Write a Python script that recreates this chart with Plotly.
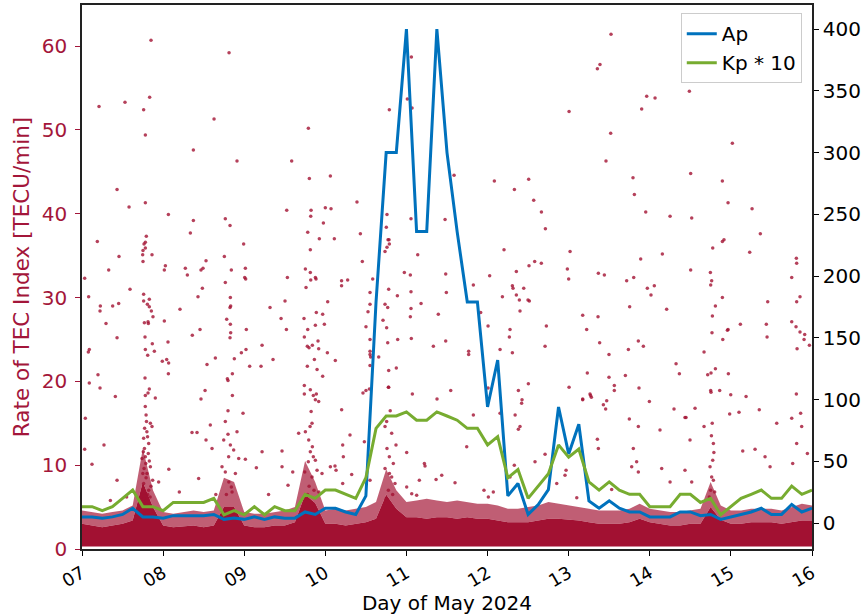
import numpy as np
import plotly.graph_objects as go

# ---------------- data ----------------
# 3-hourly geomagnetic indices, 2024-05-07 00:00 .. 2024-05-16 00:00
ap_values = [5, 5, 4, 5, 7, 12, 5, 5,
             4, 6, 6, 6, 6, 7, 3, 4,
             3, 5, 3, 5, 4, 4, 9, 7,
             12, 12, 9, 7, 22, 179, 300, 300,
             400, 236, 236, 400, 300, 236, 179, 179,
             94, 132, 22, 32, 7, 15, 27, 94,
             56, 80, 18, 12, 18, 12, 9, 9,
             5, 5, 5, 9, 9, 6, 7, 3,
             5, 7, 9, 12, 7, 7, 15, 9, 12]
kp10_values = [13.3, 13.3, 10, 13.3, 20, 26.7, 13.3, 13.3,
               10, 16.7, 16.7, 16.7, 16.7, 20, 6.7, 10,
               6.7, 13.3, 6.7, 13.3, 10, 10, 23.3, 20,
               26.7, 26.7, 23.3, 20, 36.7, 76.7, 86.7, 86.7,
               90, 83.3, 83.3, 90, 86.7, 83.3, 76.7, 76.7,
               63.3, 70, 36.7, 43.3, 20, 30, 40, 63.3,
               53.3, 60, 33.3, 26.7, 33.3, 26.7, 23.3, 23.3,
               13.3, 13.3, 13.3, 23.3, 23.3, 16.7, 20, 6.7,
               13.3, 20, 23.3, 26.7, 20, 20, 30, 23.3, 26.7]
index_day = list(7 + 0.125 * np.arange(len(ap_values)))  # day of May

# dense bulk of the ROTI points (read as envelopes, 3-hourly)
band_floor = [0.3] * 73
band_core = [3.0, 2.8, 2.6, 2.8, 3.0, 3.4, 8.0, 5.0,
             2.8, 2.6, 2.7, 2.8, 2.6, 2.8, 5.0, 5.0,
             2.8, 2.6, 2.6, 2.8, 2.8, 3.2, 6.5, 5.5,
             3.0, 3.0, 2.8, 3.0, 3.2, 3.6, 6.5, 4.8,
             3.8, 3.8, 3.6, 3.8, 3.8, 3.6, 3.8, 3.6,
             3.6, 3.4, 3.2, 3.2, 3.2, 3.4, 3.6, 3.6,
             3.5, 3.4, 3.2, 3.0, 3.0, 3.0, 3.2, 3.6,
             3.2, 3.0, 2.8, 2.8, 3.0, 3.0, 5.0, 3.5,
             3.0, 3.0, 3.2, 3.2, 3.2, 3.0, 3.2, 3.4, 3.4]
band_halo = [4.6, 4.4, 4.2, 4.4, 4.6, 5.2, 12.0, 7.0,
             4.4, 4.2, 4.4, 4.6, 4.4, 4.6, 8.5, 8.0,
             4.4, 4.2, 4.2, 4.4, 4.6, 5.0, 10.5, 8.0,
             4.6, 4.8, 4.6, 4.8, 5.0, 5.6, 9.5, 7.0,
             5.6, 5.8, 6.0, 5.8, 5.6, 5.8, 5.6, 5.4,
             5.4, 5.2, 4.8, 4.8, 5.0, 5.2, 5.6, 5.4,
             5.2, 5.0, 4.8, 4.6, 4.6, 4.6, 4.8, 5.4,
             4.8, 4.6, 4.4, 4.4, 4.6, 4.8, 8.0, 5.2,
             4.6, 4.6, 4.8, 4.8, 4.8, 4.6, 5.0, 5.4, 5.2]

# individual scattered ROTI points (day of May, TECU/min)
tec_points = [
    (7.851, 60.7), (8.813, 59.2), (7.210, 52.8), (7.530, 53.3), (7.834, 53.9), (7.760, 52.4),
    (7.781, 49.4), (8.628, 51.3), (8.373, 47.6), (8.911, 46.3), (9.585, 46.3), (9.791, 50.2),
    (9.803, 44.2), (10.062, 44.5), (7.432, 42.9), (7.580, 40.8), (7.781, 41.3), (8.065, 39.9),
    (8.373, 39.2), (8.336, 37.7), (8.767, 39.4), (8.825, 38.6), (8.993, 36.4), (9.524, 40.4),
    (9.824, 40.4), (9.820, 39.7), (10.000, 40.7), (10.070, 40.6), (9.976, 38.9), (9.783, 37.8),
    (9.926, 37.0), (9.815, 35.7), (7.189, 36.7), (7.456, 34.9), (7.793, 37.3), (7.781, 36.6),
    (7.765, 36.4), (7.781, 35.9), (7.752, 35.6), (7.748, 35.1), (7.863, 35.1), (7.752, 34.3),
    (8.028, 33.8), (8.015, 33.3), (8.529, 34.4), (8.492, 33.5), (8.467, 33.3), (8.274, 33.5),
    (8.299, 32.7), (8.755, 34.9), (8.841, 33.3), (9.014, 33.5), (9.006, 32.4), (9.018, 32.2),
    (9.754, 33.4), (9.815, 33.0), (9.820, 32.1), (9.877, 32.4), (9.885, 32.2), (9.762, 31.2),
    (9.532, 32.4), (7.329, 33.3), (7.033, 32.3), (7.592, 31.0), (7.082, 30.1), (8.484, 31.1),
    (8.430, 30.1), (8.767, 31.8), (7.226, 29.0), (7.222, 28.4), (7.378, 29.0), (7.452, 29.3),
    (7.296, 26.9), (7.760, 30.4), (7.760, 29.6), (7.830, 29.8), (7.806, 29.2), (7.830, 28.9),
    (7.855, 28.4), (7.875, 27.7), (7.769, 27.0), (7.814, 27.1), (7.818, 26.9), (8.015, 27.2),
    (8.208, 28.6), (8.829, 30.0), (8.833, 29.0), (8.825, 28.8), (8.784, 27.4), (8.829, 26.8),
    (8.833, 25.8), (8.825, 25.2), (9.026, 26.2), (9.318, 28.8), (9.503, 29.6), (9.454, 27.5),
    (9.520, 26.2), (9.737, 27.5), (9.783, 26.2), (9.877, 26.7), (9.889, 28.2), (9.967, 28.0),
    (9.988, 26.8), (10.029, 29.5), (7.432, 25.2), (7.078, 23.5), (7.090, 23.8), (7.777, 25.3),
    (7.781, 23.8), (7.867, 24.5), (7.810, 23.1), (7.892, 23.6), (8.060, 24.7), (8.360, 25.5),
    (8.455, 26.2), (7.990, 22.4), (8.044, 22.6), (8.068, 22.2), (8.065, 20.9), (8.541, 22.0),
    (8.644, 22.8), (8.878, 22.7), (8.965, 23.4), (9.022, 23.8), (9.220, 24.3), (9.355, 22.6),
    (9.067, 21.8), (9.207, 21.8), (9.741, 25.3), (9.778, 24.2), (9.799, 24.0), (9.840, 24.3),
    (9.910, 24.8), (9.918, 23.9), (10.025, 23.4), (9.865, 22.6), (9.778, 21.8), (9.898, 21.4),
    (9.967, 20.6), (7.197, 20.8), (7.090, 19.8), (7.222, 19.2), (7.411, 18.2), (7.777, 20.4),
    (7.830, 19.1), (7.814, 18.6), (7.781, 18.3), (7.904, 18.0), (8.792, 20.3), (8.800, 20.1),
    (8.854, 20.9), (8.854, 18.3), (8.517, 18.9), (8.467, 17.9), (9.741, 19.5), (9.815, 19.0),
    (9.889, 18.5), (9.852, 18.3), (9.741, 18.5),
    (11.061, 58.7), (11.011, 53.7), (11.069, 52.6), (10.789, 52.4), (11.587, 44.6), (10.390, 41.4),
    (12.084, 43.9), (12.507, 44.1), (12.331, 42.9), (12.569, 41.6), (12.664, 40.2), (12.713, 38.2),
    (13.005, 52.2), (10.111, 37.0), (10.432, 37.6), (10.760, 39.9), (10.752, 38.4), (10.773, 36.9),
    (10.785, 36.9), (10.789, 36.4), (10.760, 36.0), (10.736, 35.5), (11.056, 39.4), (11.476, 39.3),
    (11.139, 35.1), (10.456, 34.3), (10.200, 32.0), (10.200, 31.4), (10.275, 32.1), (10.584, 32.2),
    (10.974, 33.0), (11.048, 32.7), (11.484, 32.8), (12.203, 35.7), (12.026, 32.6), (11.825, 31.5),
    (12.355, 33.1), (12.511, 33.8), (12.581, 34.3), (12.663, 34.1), (12.984, 33.4), (13.000, 32.2),
    (13.017, 35.5), (12.306, 31.4), (12.314, 31.1), (12.446, 31.1), (12.355, 30.3), (12.392, 29.7),
    (12.515, 29.6), (12.499, 29.7), (12.183, 30.1), (12.400, 28.4), (10.551, 30.6), (10.551, 29.2),
    (10.526, 28.3), (10.736, 29.2), (10.769, 28.8), (10.781, 31.0), (10.888, 30.2), (11.056, 30.7),
    (11.056, 28.7), (11.048, 27.7), (11.180, 29.3), (11.393, 28.0), (11.492, 30.6), (11.915, 28.2),
    (10.501, 26.5), (10.551, 25.0), (10.711, 27.3), (10.756, 26.4), (10.769, 24.6), (10.892, 25.0),
    (11.060, 25.1), (11.332, 24.2), (11.484, 24.8), (12.006, 26.6), (12.277, 26.2), (12.269, 25.3),
    (12.306, 23.4), (12.154, 23.8), (12.725, 26.6), (12.709, 24.2), (11.767, 23.6), (11.767, 23.2),
    (10.123, 22.5), (10.551, 23.6), (10.551, 23.2), (10.559, 22.9), (10.551, 21.9), (10.658, 22.9),
    (10.781, 21.3), (10.875, 21.6), (10.781, 19.3), (10.464, 18.6), (10.501, 18.9), (10.543, 19.1),
    (11.073, 18.5), (11.377, 17.9), (11.546, 18.9), (12.006, 19.2), (12.380, 18.9), (12.503, 19.7),
    (13.005, 19.3),
    (13.522, 61.4), (13.354, 57.3), (13.386, 57.8), (13.962, 54.0), (14.065, 53.8), (13.900, 52.5),
    (14.488, 54.6), (13.518, 49.6), (15.018, 48.4), (13.460, 46.3), (13.793, 44.3), (13.810, 42.3),
    (14.504, 44.8), (14.895, 43.9), (14.965, 41.3), (15.261, 40.6), (13.950, 40.2), (14.250, 39.7),
    (14.517, 39.5), (15.363, 37.6), (14.776, 35.9), (14.895, 36.7), (14.915, 36.9), (15.232, 35.4),
    (13.888, 34.6), (14.155, 35.2), (13.366, 32.9), (13.440, 32.7), (13.715, 32.0), (13.802, 32.4),
    (13.970, 31.1), (14.056, 31.4), (14.015, 30.3), (13.752, 28.9), (14.208, 28.6), (14.504, 33.3),
    (14.747, 33.0), (14.763, 32.0), (14.751, 31.5), (14.809, 29.0), (14.772, 27.8), (14.895, 30.0),
    (14.767, 25.8), (14.900, 25.0), (14.965, 26.2), (14.957, 26.1), (15.117, 26.8), (15.437, 26.8),
    (15.446, 25.3), (15.454, 29.5), (15.750, 32.4), (15.807, 34.7), (15.811, 34.1), (15.852, 30.1),
    (15.811, 29.5), (15.750, 27.1), (15.803, 26.5), (15.852, 25.9), (15.910, 25.6), (15.902, 25.0),
    (15.816, 23.9), (15.968, 24.3), (13.173, 27.9), (13.362, 27.7), (13.222, 26.2), (13.382, 24.6),
    (13.497, 23.2), (13.736, 23.8), (13.859, 24.8), (13.921, 24.2), (14.324, 22.1), (14.365, 20.9),
    (14.669, 23.5), (14.714, 20.8), (14.755, 21.0), (14.809, 21.5), (14.969, 20.9), (13.230, 21.0),
    (13.497, 20.5), (13.699, 20.7), (13.563, 19.5), (13.563, 18.9), (13.867, 19.2), (13.263, 18.5),
    (13.280, 18.1), (13.173, 17.9), (14.751, 18.9), (14.755, 18.7), (14.862, 18.9), (14.998, 18.4),
    (15.187, 18.2), (15.807, 18.5),
    (7.041, 15.6), (7.033, 11.9), (7.123, 10.1), (7.271, 12.4), (7.432, 8.2),
    (7.760, 13.2), (7.781, 11.0), (7.765, 9.6), (7.843, 15.0), (7.863, 14.6), (7.822, 12.6),
    (7.740, 10.8), (7.801, 9.0), (7.843, 9.8), (7.871, 8.2), (7.760, 7.8), (7.822, 7.0),
    (7.790, 16.0), (7.800, 14.0), (7.770, 12.0), (7.830, 10.5), (7.750, 9.0), (7.790, 8.5),
    (7.850, 7.5), (7.810, 6.5), (7.760, 6.0), (7.840, 6.2), (7.780, 17.0),
    (7.795, 15.2), (7.808, 13.4), (7.772, 14.4), (7.817, 11.4), (7.786, 10.2), (7.756, 11.6),
    (8.070, 9.5), (7.945, 8.0), (8.356, 13.9), (8.418, 13.9), (8.582, 14.8), (8.529, 13.0),
    (8.603, 12.0), (8.438, 8.4),
    (8.767, 15.2), (8.800, 13.7), (8.747, 13.0), (8.911, 14.0), (8.829, 12.4), (8.870, 11.8),
    (8.808, 11.0), (8.726, 9.8), (8.767, 9.2), (8.891, 9.0), (8.932, 10.8), (9.014, 10.7),
    (8.841, 7.4), (8.810, 8.0), (8.780, 6.5), (8.850, 6.8), (8.800, 16.5), (8.985, 16.2),
    (9.220, 11.6), (9.150, 9.7), (9.466, 11.7), (9.466, 9.8), (9.598, 9.2), (9.540, 7.6),
    (9.671, 13.8), (9.754, 14.0), (9.836, 15.0), (9.877, 17.8), (9.918, 17.6), (9.795, 13.0),
    (9.815, 11.6), (9.877, 10.6), (9.898, 9.4), (9.836, 8.6), (9.746, 9.2), (9.959, 9.0),
    (10.062, 9.8), (9.800, 7.5), (9.860, 7.0), (9.780, 6.5), (9.920, 6.8), (9.840, 12.2),
    (9.812, 14.6), (9.790, 10.4), (9.852, 11.0), (9.825, 16.4),
    (8.200, 6.8), (8.650, 6.5), (7.550, 6.2), (9.300, 6.5), (7.350, 5.8),
    (10.777, 19.3), (10.201, 16.6), (10.304, 13.6), (10.214, 12.4), (10.222, 11.0), (10.481, 12.8),
    (10.119, 9.9), (10.132, 9.4), (10.551, 8.2), (10.214, 7.8), (10.325, 8.9),
    (10.756, 15.2), (10.736, 14.6), (10.818, 13.8), (10.871, 12.4), (11.003, 11.5), (10.736, 9.6),
    (10.789, 11.0), (10.838, 10.2), (10.818, 8.6), (10.859, 7.8), (10.777, 7.0), (10.800, 16.5),
    (10.760, 12.0), (10.790, 9.0), (10.830, 6.5), (10.750, 6.0),
    (11.221, 10.2), (11.229, 9.9), (11.159, 8.2), (11.365, 8.3), (11.435, 8.8), (11.599, 7.9),
    (11.003, 7.4), (11.065, 6.6), (11.126, 6.4), (11.825, 16.0), (11.743, 12.2), (12.154, 16.2),
    (12.340, 16.0), (12.380, 14.3), (12.400, 14.6), (12.420, 17.4), (12.425, 17.8), (12.585, 10.4),
    (12.709, 11.3), (12.968, 9.4), (12.955, 8.8), (12.853, 7.8), (11.956, 7.0), (12.071, 6.8),
    (12.010, 6.2), (12.277, 8.6), (12.330, 10.0),
    (13.173, 17.8), (13.270, 18.3), (13.428, 17.2), (13.456, 16.7), (13.469, 17.7), (13.995, 17.6),
    (14.299, 16.7), (14.447, 15.7), (14.558, 16.8), (14.669, 14.6), (14.784, 12.6), (14.776, 10.6),
    (14.743, 9.8), (14.763, 8.6), (14.784, 8.2), (14.734, 6.2), (14.770, 15.0), (14.790, 11.5),
    (14.750, 7.0), (14.800, 6.8), (14.760, 13.5), (15.100, 16.3), (14.985, 16.1), (15.350, 16.6),
    (15.565, 15.0), (15.750, 15.6), (15.860, 16.2), (15.873, 14.6), (15.811, 12.6), (15.762, 10.2),
    (15.943, 11.4), (13.354, 13.1), (13.366, 12.0), (13.748, 15.5), (13.859, 14.6), (14.126, 14.2),
    (14.496, 13.0), (14.434, 15.7), (15.146, 11.7), (15.421, 11.0), (15.483, 9.8), (15.298, 11.9),
    (13.797, 12.0), (13.838, 10.4), (13.777, 9.8), (13.859, 9.2), (14.147, 9.6), (14.250, 8.0),
    (14.434, 9.4), (14.517, 8.0), (13.530, 7.1), (13.100, 6.1),
]
tec_day = [p[0] for p in tec_points]
tec_val = [p[1] for p in tec_points]

day_ticks = [7, 8, 9, 10, 11, 12, 13, 14, 15, 16]
day_tick_labels = ["07", "08", "09", "10", "11", "12", "13", "14", "15", "16"]

# ---------------- styling ----------------
RED = "rgb(162,17,50)"
RED_TXT = "#a3163a"
BLUE = "#0072BD"
GREEN = "#77AC30"
FONT = "DejaVu Sans"

fig = go.Figure()

fig.add_trace(go.Scatter(x=index_day, y=band_floor, mode="lines",
                         line=dict(width=0, color=RED), showlegend=False,
                         hoverinfo="skip"))
fig.add_trace(go.Scatter(x=index_day, y=band_core, mode="lines", fill="tonexty",
                         fillcolor=RED, line=dict(width=0, color=RED),
                         showlegend=False, hoverinfo="skip"))
fig.add_trace(go.Scatter(x=index_day, y=band_halo, mode="lines", fill="tonexty",
                         fillcolor="rgba(162,17,50,0.68)", line=dict(width=0, color=RED),
                         showlegend=False, hoverinfo="skip"))
fig.add_trace(go.Scatter(x=tec_day, y=tec_val, mode="markers",
                         marker=dict(size=3.5, color=RED, opacity=0.8, line=dict(width=0)),
                         showlegend=False))

fig.add_trace(go.Scatter(x=index_day, y=ap_values, mode="lines", name="Ap",
                         line=dict(color=BLUE, width=3), yaxis="y2"))
fig.add_trace(go.Scatter(x=index_day, y=kp10_values, mode="lines", name="Kp * 10",
                         line=dict(color=GREEN, width=3), yaxis="y2"))

fig.update_layout(
    width=866, height=616,
    margin=dict(l=82, r=54, t=5, b=67),
    paper_bgcolor="white", plot_bgcolor="white",
    font=dict(family=FONT, size=20, color="black"),
    showlegend=True,
    legend=dict(x=0.986, y=0.985, xanchor="right", yanchor="top",
                traceorder="normal",
                bgcolor="rgba(255,255,255,0.9)", bordercolor="#cccccc", borderwidth=1,
                font=dict(family=FONT, size=20, color="black"),
                tracegroupgap=0),
    xaxis=dict(range=[7, 16], tickvals=day_ticks, ticktext=day_tick_labels,
               tickangle=-30, ticks="outside", ticklen=5, tickwidth=1.2,
               tickcolor="black", showgrid=False, zeroline=False, automargin=False,
               showline=True, mirror=True, linecolor="#222222", linewidth=1.6,
               title=dict(text="Day of May 2024", standoff=4,
                          font=dict(family=FONT, size=20, color="black")),
               tickfont=dict(family=FONT, size=18, color="black")),
    yaxis=dict(range=[0, 64.9], tickvals=[0, 10, 20, 30, 40, 50, 60],
               ticks="outside", ticklen=5, tickwidth=1.2, tickcolor=RED_TXT,
               ticklabelstandoff=4,
               showgrid=False, zeroline=False, automargin=False,
               showline=True, linecolor="#222222", linewidth=1.6,
               title=dict(text="Rate of TEC Index [TECU/min]", standoff=6,
                          font=dict(family=FONT, size=21.5, color=RED_TXT)),
               tickfont=dict(family=FONT, size=20, color=RED_TXT)),
    yaxis2=dict(range=[-21, 419.5], tickvals=[0, 50, 100, 150, 200, 250, 300, 350, 400],
                overlaying="y", side="right", ticks="outside", ticklen=5, tickwidth=1.2,
                tickcolor="black", showgrid=False, zeroline=False, automargin=False,
                showline=True, linecolor="#222222", linewidth=1.6,
                tickfont=dict(family=FONT, size=20, color="black")),
)

fig.write_html("out.html", config={"displayModeBar": False},
               post_script="document.body.style.margin='0';")
